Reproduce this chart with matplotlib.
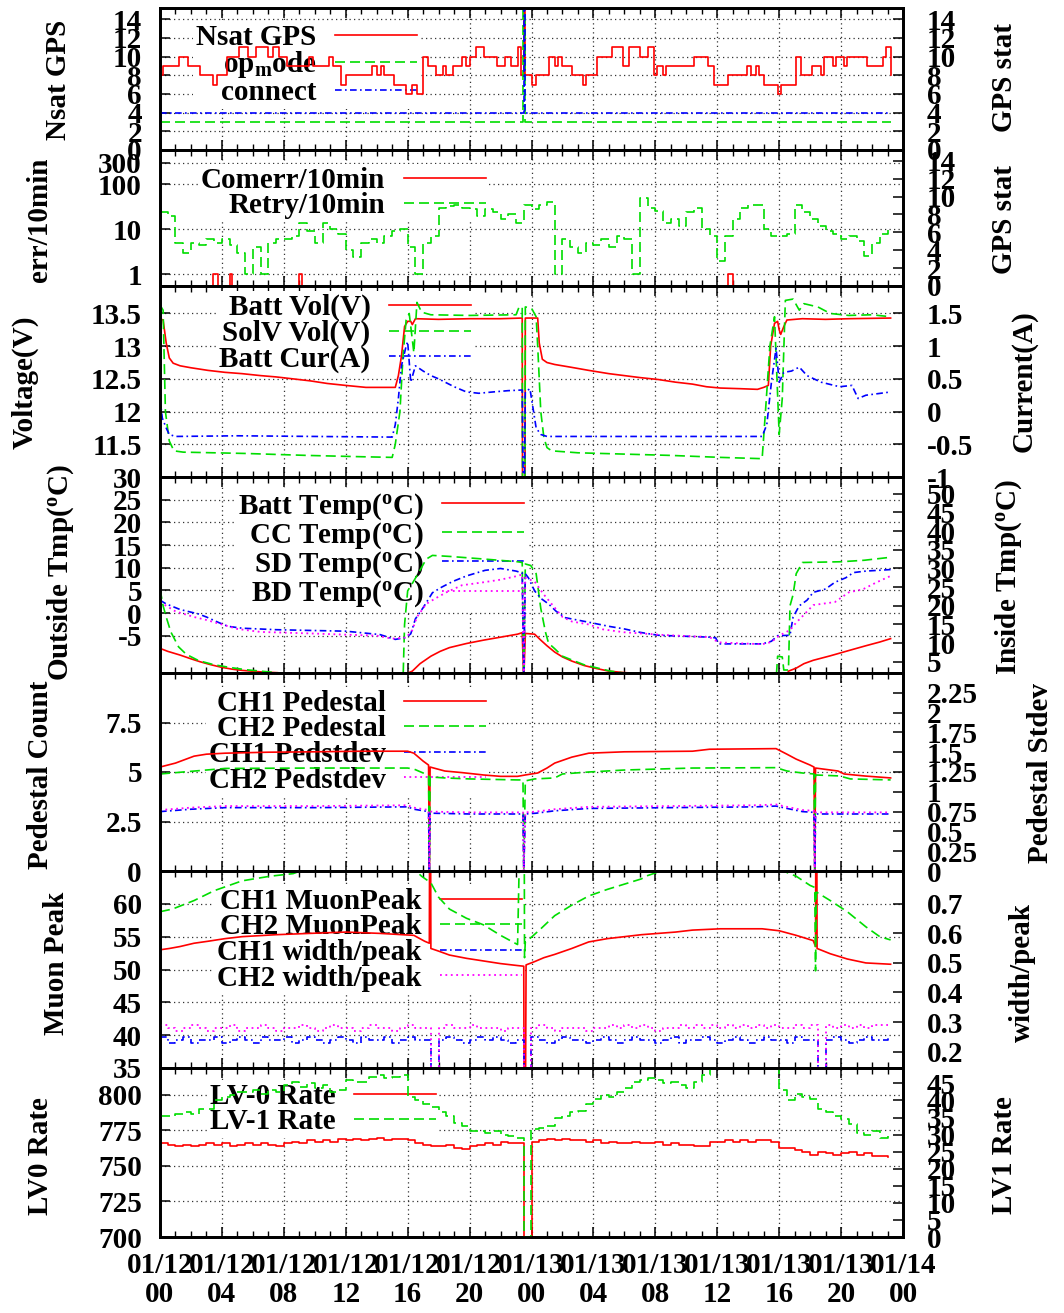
import numpy as np
import matplotlib
matplotlib.use("Agg")
import matplotlib.pyplot as plt
from matplotlib.ticker import FixedLocator, MultipleLocator, NullLocator, FormatStrFormatter

plt.rcParams['font.family'] = ['Liberation Serif', 'DejaVu Serif']
plt.rcParams['font.weight'] = 'bold'
plt.rcParams['font.size'] = 21
plt.rcParams['axes.unicode_minus'] = False
plt.rcParams['mathtext.fontset'] = 'custom'
plt.rcParams['mathtext.rm'] = 'Liberation Serif:bold'
plt.rcParams['mathtext.it'] = 'Liberation Serif:bold'
plt.rcParams['mathtext.bf'] = 'Liberation Serif:bold'

# time axis: hours since 01/12 00:00
tick_hours = [0, 4, 8, 12, 16, 20, 24, 28, 32, 36, 40, 44, 48]
tick_labels = ["01/12\n00", "01/12\n04", "01/12\n08", "01/12\n12", "01/12\n16",
               "01/12\n20", "01/13\n00", "01/13\n04", "01/13\n08", "01/13\n12",
               "01/13\n16", "01/13\n20", "01/14\n00"]

# half-hour samples for the noisy counters
half_hours = np.arange(95) * 0.5

# ---- GPS
nsat_t = [0.0, 0.2, 1.2, 1.8, 2.6, 3.4, 3.7, 4.3, 5.1, 5.7, 6.2, 7.0, 7.3, 7.7, 8.2, 9.6, 9.9, 10.9,
          11.2, 11.7, 12.0, 13.7, 14.0, 14.3, 14.5, 15.1, 15.9, 16.3, 16.6, 17.0, 17.3, 17.8, 18.3,
          18.5, 18.9, 19.5, 19.8, 20.0, 20.4, 20.9, 21.8, 22.3, 22.7, 23.1, 23.3, 23.5, 23.6, 24.0,
          24.3, 25.1, 25.5, 25.7, 26.0, 26.6, 27.3, 27.5, 28.2, 29.2, 29.9, 30.3, 31.0, 31.5, 31.9,
          32.1, 32.5, 32.7, 34.5, 35.4, 35.8, 36.7, 37.9, 38.2, 38.5, 38.7, 39.0, 39.9, 40.1, 41.1,
          41.4, 42.1, 42.7, 42.9, 43.5, 43.7, 44.2, 44.4, 45.7, 46.7, 46.9, 47.2]
nsat_v = [8, 9, 10, 9, 8, 7, 8, 10, 11, 10, 11, 10, 11, 10, 9, 10, 9, 10, 9, 7, 8, 9, 8, 9, 8, 7, 6,
          7, 6, 10, 9, 8, 9, 8, 9, 10, 9, 10, 11, 10, 9, 10, 9, 11, 8, 99, 8, 7, 8, 10, 9, 10, 9, 8,
          7, 8, 10, 11, 9, 11, 10, 11, 8, 9, 8, 9, 10, 9, 7, 8, 9, 8, 9, 8, 7, 6, 7, 10, 8, 9, 8, 10,
          9, 10, 9, 10, 9, 10, 11, 8]
opmode_t = [0.0, 23.45, 23.55, 47.2]
opmode_v = [3, 20, 3, 3]
connect_t = [0.0, 23.5, 23.6, 47.2]
connect_v = [4, 20, 4, 4]

# ---- communication errors
comerr_t = [0.0, 3.4, 3.75, 4.5, 4.65, 9.0, 9.15, 36.7, 37.0, 47.2]
comerr_v = [0, 1, 0, 1, 0, 1, 0, 1, 0, 0]
retry_v = [24, 20, 5, 3, 5, 4.5, 6, 5, 6, 4.5,
           3, 1, 4, 1, 5, 6, 6, 7, 14, 9,
           5, 14, 10, 8, 3.5, 2.4, 5, 6, 5, 7,
           9, 10, 4, 1, 5, 7, 30, 33, 35, 30,
           28, 20, 28, 24, 17, 22, 14, 34, 28, 35,
           40, 1, 6, 4, 3, 5, 4.5, 6, 4, 7,
           6, 1, 49, 30, 25, 14, 17, 12, 24, 30,
           10, 7, 2, 7, 17, 30, 35, 34, 10, 7,
           7, 8, 35, 24, 17, 12, 9, 8, 6, 7,
           5.5, 2.5, 5, 8, 12]

# ---- power
batt_vol_t = [0.0, 0.2, 0.4, 0.6, 0.85, 1.3, 2.0, 3.1, 4.2, 5.3, 6.5, 7.5, 8.6, 9.7, 10.8, 12.0,
              13.3, 15.2, 15.4, 15.6, 15.8, 16.0, 16.2, 16.3, 16.5, 18.0, 20.0, 22.0, 23.4, 23.5,
              23.6, 24.4, 24.5, 24.7, 25.0, 25.5, 26.5, 27.7, 29.0, 30.0, 31.0, 32.2, 33.3, 34.4,
              35.3, 36.2, 37.5, 38.6, 39.0, 39.3, 39.45, 39.7, 39.9, 40.0, 40.1, 40.3, 40.5, 41.5,
              43.0, 44.5, 47.2]
batt_vol_v = [13.42, 13.4, 13.05, 12.82, 12.74, 12.7, 12.67, 12.63, 12.6, 12.58, 12.55, 12.53,
              12.5, 12.47, 12.43, 12.4, 12.37, 12.37, 12.55, 12.85, 13.3, 13.38, 13.38, 13.33,
              13.42, 13.41, 13.42, 13.42, 13.43, 0, 13.43, 13.43, 13.05, 12.8, 12.75, 12.72,
              12.68, 12.63, 12.58, 12.55, 12.52, 12.49, 12.45, 12.42, 12.38, 12.36, 12.35, 12.34,
              12.37, 12.4, 13.0, 13.35, 13.38, 13.25, 13.18, 13.3, 13.4, 13.42, 13.41, 13.42, 13.43]
solv_t = [0.0, 0.2, 0.35, 0.6, 0.9, 1.5, 5.5, 9.5, 13.0, 15.0, 15.2, 15.5, 15.7, 15.9, 16.1, 16.3,
          16.4, 16.6, 16.9, 17.5, 20.0, 23.0, 23.2, 23.4, 23.5, 23.6, 24.0, 24.3, 24.4, 24.6, 24.8,
          25.0, 25.3, 27.0, 30.0, 33.0, 36.2, 38.9, 39.1, 39.4, 39.7, 40.0, 40.2, 40.4, 40.9, 41.3,
          41.6, 42.5, 43.3, 44.5, 46.0, 47.2]
solv_v = [13.63, 13.55, 12.0, 11.55, 11.4, 11.38, 11.36, 11.33, 11.31, 11.3, 11.5, 12.0, 12.85,
          13.4, 13.5, 13.1, 12.9, 13.67, 13.52, 13.48, 13.47, 13.48, 13.6, 13.6, 0, 13.6, 13.58,
          13.45, 13.0, 12.0, 11.6, 11.45, 11.4, 11.37, 11.35, 11.33, 11.3, 11.28, 11.95, 13.0,
          13.45, 11.65, 12.2, 13.7, 13.72, 13.55, 13.65, 13.6, 13.5, 13.47, 13.48, 13.45]
cur_t = [0.0, 0.15, 0.4, 0.6, 1.0, 5.0, 10.0, 15.0, 15.2, 15.4, 15.6, 15.9, 16.0, 16.2, 16.5, 17.0,
         17.5, 18.0, 19.0, 19.8, 20.6, 21.5, 22.5, 23.4, 23.5, 23.6, 23.9, 24.1, 24.3, 24.6, 25.0,
         30.0, 35.0, 38.9, 39.2, 39.5, 39.8, 40.0, 40.3, 40.8, 41.3, 41.8, 42.7, 43.9, 44.7, 45.1,
         45.6, 47.2]
cur_v = [0.2, -0.1, -0.25, -0.35, -0.38, -0.37, -0.38, -0.39, -0.2, 0.2, 0.7, 1.0, 1.07, 0.45,
         0.7, 0.62, 0.55, 0.5, 0.38, 0.3, 0.28, 0.3, 0.32, 0.33, -2.0, 0.3, 0.35, 0.05, -0.25,
         -0.35, -0.38, -0.38, -0.38, -0.38, -0.2, 0.45, 0.97, 0.45, 0.6, 0.62, 0.68, 0.55, 0.45,
         0.38, 0.4, 0.2, 0.25, 0.3]

# ---- temperatures (inside sensors)
batt_temp_t = [0.0, 0.5, 1.3, 2.0, 2.6, 3.3, 4.0, 4.7, 5.3, 6.5, 7.5, 8.2, 9.0, 10.0, 12.0, 15.7,
               15.9, 16.3, 16.8, 17.5, 18.1, 18.7, 19.8, 20.9, 22.0, 23.1, 23.4, 23.5, 23.6, 24.2,
               24.6, 25.0, 25.5, 26.0, 26.6, 27.4, 28.2, 29.0, 30.0, 31.0, 32.0, 35.0, 40.4, 40.6,
               41.1, 41.6, 42.2, 43.3, 44.4, 45.6, 46.5, 47.2]
batt_temp_v = [8.6, 7.8, 6.8, 5.8, 5.0, 4.2, 3.5, 3.0, 2.7, 2.3, 2.1, 1.9, 1.2, 0.5, -0.5, -0.5,
               1.8, 2.5, 4.5, 6.5, 7.8, 8.8, 9.9, 10.8, 11.6, 12.4, 12.8, 0, 12.6, 12.4, 10.8, 9.3,
               7.6, 6.3, 5.2, 4.0, 3.2, 2.5, 2.1, 1.9, 1.0, 0, 0, 2.5, 3.3, 4.5, 5.4, 6.6, 7.9, 9.3,
               10.3, 11.2]
cc_temp_t = [0.0, 0.2, 0.4, 0.7, 1.2, 1.7, 2.5, 3.5, 4.5, 5.5, 7.0, 8.2, 9.0, 10.0, 15.7, 15.8,
             16.0, 16.3, 16.7, 17.2, 17.6, 18.8, 21.0, 23.1, 23.4, 23.5, 23.6, 23.95, 24.3, 24.6,
             24.9, 25.1, 25.5, 26.0, 26.6, 27.4, 28.2, 29.1, 30.0, 30.4, 31.0, 39.8, 39.9, 40.2,
             40.3, 40.6, 40.7, 40.9, 41.1, 41.5, 44.0, 45.5, 47.2]
cc_temp_v = [24.5, 20.0, 17.0, 13.0, 9.0, 7.0, 5.3, 4.2, 3.5, 2.9, 2.3, 1.8, 1.0, 0, 0, 15.0, 24.0,
             26.0, 28.8, 32.5, 33.5, 33.2, 32.5, 31.8, 31.6, 0, 31.2, 30.8, 28.6, 19.3, 13.0, 10.0,
             8.5, 6.5, 5.5, 4.2, 3.4, 2.5, 2.0, 1.5, 0, 0, 6.5, 6.3, 2.8, 2.8, 20.0, 23.0, 28.6,
             31.6, 31.8, 32.2, 33.0]
sd_temp_t = [0.0, 0.4, 1.3, 2.5, 3.0, 3.8, 4.4, 5.3, 7.5, 9.7, 12.0, 14.2, 15.2, 15.9, 16.2, 16.5,
             17.0, 17.6, 18.2, 18.9, 19.8, 21.0, 22.0, 23.0, 23.4, 23.5, 23.6, 23.8, 24.2, 24.6,
             25.1, 25.6, 26.2, 27.7, 29.0, 30.0, 31.0, 32.2, 35.5, 35.9, 36.1, 38.9, 39.5, 39.9,
             40.7, 40.9, 41.3, 41.8, 42.2, 43.0, 43.6, 44.3, 44.8, 45.6, 47.2]
sd_temp_v = [21.5, 20.5, 19.0, 17.8, 17.0, 15.5, 14.5, 14.0, 13.6, 13.4, 13.2, 12.3, 11.0, 11.5,
             12.5, 16.5, 19.5, 23.5, 25.0, 26.5, 28.0, 29.5, 30.0, 29.3, 28.8, 0, 28.6, 27.5, 24.0,
             22.0, 20.5, 18.5, 16.8, 15.6, 14.5, 13.8, 12.9, 12.1, 11.6, 11.4, 9.8, 9.8, 10.5,
             12.0, 12.1, 17.0, 20.0, 21.5, 23.6, 24.5, 26.3, 27.5, 28.9, 29.3, 29.7]
bd_temp_t = [0.0, 0.4, 1.0, 2.2, 3.0, 4.0, 5.0, 6.5, 9.7, 12.5, 14.0, 15.0, 15.9, 16.3, 16.6, 17.2,
             17.8, 18.5, 19.5, 20.9, 22.0, 23.1, 23.4, 23.5, 23.6, 24.2, 24.8, 25.5, 26.0, 26.6,
             27.7, 28.6, 30.0, 32.5, 35.5, 36.1, 38.9, 39.5, 40.0, 40.7, 41.1, 41.6, 42.2, 43.6,
             44.5, 45.4, 46.3, 47.2]
bd_temp_v = [21.0, 20.0, 18.5, 17.0, 16.2, 15.0, 13.8, 13.0, 12.6, 12.2, 12.0, 11.2, 11.5, 13.5,
             17.0, 20.5, 22.0, 23.6, 25.5, 26.3, 27.0, 28.0, 28.4, 0, 27.5, 26.5, 23.0, 19.5, 17.0,
             15.8, 15.0, 13.7, 12.9, 12.2, 11.6, 10.2, 9.7, 10.3, 12.0, 13.5, 15.5, 17.6, 20.2,
             21.0, 23.6, 24.4, 26.3, 28.0]

# ---- pedestals
ch1_ped_t = [0.0, 1.0, 2.2, 3.0, 4.2, 7.0, 10.0, 13.0, 16.0, 16.4, 17.0, 17.35, 17.4, 17.45, 18.4,
             19.5, 20.9, 22.0, 23.1, 23.6, 24.4, 25.0, 25.5, 26.6, 27.7, 30.0, 34.4, 35.5, 39.8,
             40.5, 41.1, 42.0, 42.25, 42.3, 42.35, 43.8, 44.2, 45.5, 47.2]
ch1_ped_v = [5.25, 5.45, 5.8, 5.9, 5.95, 6.0, 6.02, 6.05, 6.05, 5.95, 5.55, 5.35, 0, 5.25, 5.05,
             4.97, 4.85, 4.78, 4.78, 4.85, 4.95, 5.2, 5.45, 5.75, 5.95, 6.02, 6.05, 6.15, 6.18,
             5.9, 5.65, 5.35, 5.25, 0, 5.2, 5.05, 4.9, 4.8, 4.7]
ch2_ped_t = [0.0, 1.5, 3.0, 4.2, 10.0, 16.0, 16.4, 17.0, 17.35, 17.4, 17.45, 18.4, 20.0, 23.1,
             23.45, 23.5, 23.6, 24.2, 25.5, 26.0, 27.7, 30.0, 32.2, 34.4, 39.8, 40.5, 41.5, 42.25,
             42.3, 42.35, 43.9, 44.6, 47.2]
ch2_ped_v = [4.9, 5.0, 5.1, 5.18, 5.2, 5.2, 5.15, 4.95, 4.8, 0, 4.75, 4.7, 4.65, 4.6, 4.6, 0, 4.55,
             4.65, 4.7, 4.9, 5.0, 5.1, 5.15, 5.2, 5.22, 5.05, 4.95, 4.9, 0, 4.85, 4.8, 4.65, 4.6]
pedsd_t = [0.0, 2.0, 4.2, 10.0, 16.0, 16.4, 17.35, 17.4, 17.45, 20.0, 23.45, 23.5, 23.6, 24.3,
           25.5, 27.7, 33.0, 38.5, 39.8, 40.5, 41.5, 42.25, 42.3, 42.35, 47.2]
ch1_sd_v = [0.75, 0.78, 0.8, 0.8, 0.81, 0.78, 0.75, 0, 0.73, 0.72, 0.72, 0, 0.72, 0.73, 0.76,
            0.79, 0.8, 0.81, 0.82, 0.79, 0.75, 0.74, 0, 0.72, 0.72]
ch2_sd_v = [0.77, 0.8, 0.82, 0.82, 0.83, 0.8, 0.77, 0, 0.75, 0.74, 0.74, 0, 0.74, 0.75, 0.78,
            0.81, 0.82, 0.83, 0.84, 0.81, 0.77, 0.76, 0, 0.74, 0.74]

# ---- muon peaks
ch1_mu_t = [0.0, 0.6, 1.3, 2.2, 3.1, 4.2, 5.3, 7.5, 9.7, 12.0, 14.2, 16.4, 17.1, 17.4, 17.45, 17.5,
            18.0, 18.7, 19.8, 20.9, 22.0, 23.1, 23.5, 23.55, 23.65, 24.2, 24.8, 25.5, 26.6, 27.7,
            28.9, 30.0, 31.1, 32.2, 33.3, 34.4, 36.2, 38.9, 40.0, 41.1, 42.2, 42.35, 42.4, 42.45,
            43.3, 44.4, 45.6, 47.2]
ch1_mu_v = [53.0, 53.2, 53.5, 54.0, 54.3, 54.7, 55.0, 55.3, 55.5, 55.7, 55.5, 55.2, 54.3, 54.0,
            100, 53.2, 52.8, 52.2, 51.7, 51.3, 50.9, 50.6, 50.5, 0, 50.7, 51.2, 51.8, 52.3, 53.2,
            54.2, 54.7, 55.0, 55.3, 55.5, 55.7, 56.0, 56.2, 56.2, 55.9, 55.2, 54.4, 53.5, 100,
            53.2, 52.4, 51.6, 51.0, 50.8]
ch2_mu_t = [0.0, 0.8, 2.2, 3.5, 5.3, 7.1, 8.6, 10.0, 13.0, 15.0, 16.4, 16.9, 17.5, 18.0, 18.7,
            19.8, 20.9, 22.0, 23.1, 23.5, 23.55, 23.6, 23.7, 24.6, 25.5, 26.6, 27.7, 28.9, 30.0,
            31.1, 31.5, 33.0, 36.0, 39.0, 41.1, 42.0, 42.3, 42.35, 42.4, 43.3, 44.4, 45.6, 46.5,
            47.2]
ch2_mu_v = [58.8, 59.2, 60.5, 62.0, 63.5, 64.2, 64.6, 65.8, 66.3, 66.0, 65.3, 64.2, 63.2, 61.0,
            59.2, 57.8, 56.8, 55.2, 53.8, 100, 51.8, 54.2, 54.3, 56.2, 58.2, 59.8, 61.2, 62.2,
            63.0, 63.8, 64.3, 65.5, 66.5, 66.2, 64.2, 62.8, 62.5, 49.8, 61.8, 60.5, 58.8, 56.5,
            55.0, 54.5]
ch1_wp_v = [0.25, 0.23, 0.24, 0.25, 0.23, 0.24, 0.24, 0.25, 0.23, 0.24, 0.25, 0.24,
            0.23, 0.25, 0.24, 0.24, 0.25, 0.23, 0.24, 0.25, 0.24, 0.23, 0.24, 0.25,
            0.24, 0.23, 0.25, 0.24, 0.24, 0.25, 0.23, 0.24, 0.25, 0.24, 0.24, 0,
            0.24, 0.25, 0.24, 0.23, 0.24, 0.25, 0.24, 0.25, 0.24, 0.23, 0.24, 0,
            0.25, 0.24, 0.23, 0.24, 0.25, 0.24, 0.24, 0.23, 0.24, 0.25, 0.24, 0.23,
            0.24, 0.25, 0.24, 0.24, 0.23, 0.24, 0.25, 0.23, 0.24, 0.24, 0.25, 0.24,
            0.23, 0.24, 0.25, 0.24, 0.23, 0.24, 0.25, 0.24, 0.24, 0.23, 0.25, 0.24,
            0.24, 0, 0.24, 0.25, 0.24, 0.23, 0.24, 0.25, 0.24, 0.24, 0.25]
ch2_wp_v = [0.29, 0.28, 0.27, 0.28, 0.29, 0.28, 0.27, 0.28, 0.28, 0.29, 0.27, 0.28,
            0.28, 0.29, 0.28, 0.27, 0.28, 0.28, 0.29, 0.28, 0.27, 0.28, 0.29, 0.28,
            0.28, 0.27, 0.28, 0.29, 0.28, 0.28, 0.27, 0.28, 0.29, 0.28, 0.28, 0,
            0.28, 0.29, 0.28, 0.28, 0.29, 0.28, 0.28, 0.28, 0.27, 0.28, 0.28, 0,
            0.28, 0.29, 0.28, 0.27, 0.28, 0.28, 0.28, 0.27, 0.28, 0.28, 0.29, 0.28,
            0.29, 0.28, 0.29, 0.28, 0.27, 0.28, 0.28, 0.29, 0.28, 0.29, 0.28, 0.29,
            0.28, 0.29, 0.28, 0.29, 0.28, 0.29, 0.28, 0.29, 0.28, 0.28, 0.29, 0.28,
            0.29, 0, 0.29, 0.28, 0.29, 0.28, 0.29, 0.28, 0.29, 0.29, 0.29]

# ---- trigger rates
lv0_v = [766, 765, 764, 765, 764, 765, 766, 765, 766, 764, 765, 766,
         765, 766, 765, 764, 766, 767, 766, 768, 767, 768, 767, 769,
         768, 769, 768, 769, 770, 768, 769, 769, 768, 766, 765, 764,
         764, 765, 763, 762, 764, 765, 766, 765, 767, 766, 766, 0,
         767, 768, 769, 768, 769, 768, 768, 767, 768, 766, 767, 766,
         766, 767, 766, 766, 767, 765, 766, 765, 765, 764, 764, 767,
         767, 768, 767, 768, 767, 768, 768, 767, 763, 763, 761, 760,
         758, 760, 759, 758, 759, 760, 758, 759, 757, 757, 756]
lv1_v = [35.5, 35.5, 36, 36.5, 36, 37.5, 37.5, 40, 41, 41.5, 42.5, 42.5,
         43, 42, 43, 42.5, 44.5, 45.5, 44, 45, 43.5, 44.5, 42.5, 43,
         46, 45.5, 45.5, 47, 47.5, 46.5, 47, 47.5, 41, 40, 39, 38,
         36.5, 35.5, 33.5, 32.5, 31, 31, 30.5, 31, 30, 29.5, 29, 0,
         31.5, 32, 32.5, 35, 35.5, 36.5, 37, 39, 40.5, 41.5, 41, 42.5,
         43.5, 45.5, 46, 46.5, 46, 45, 45.5, 44.5, 43.5, 45.5, 47.5, 49.5,
         50.5, 51, 50.5, 51, 51, 50.5, 51, 50.5, 43, 40, 42, 41,
         40.5, 37.5, 36.5, 35.5, 34.5, 33, 30.5, 30, 31, 29, 29.5]

RED = dict(color='#ff0000', lw=1.2, ls='-')
GREEN = dict(color='#00dd00', lw=1.2, ls=(0, (6, 3)))
BLUE = dict(color='#0000ff', lw=1.2, ls=(0, (4, 2, 1, 2)))
MAG = dict(color='#ff00ff', lw=1.3, ls=(0, (1, 2)))

W, H = 1064, 1313
fig = plt.figure(figsize=(W / 100, H / 100), dpi=100)


def panel(top, bottom):
    ax = fig.add_axes([160 / W, 1 - bottom / H, 743 / W, (bottom - top) / H])
    ax2 = ax.twinx()
    ax.set_xlim(0, 48)
    ax.xaxis.set_major_locator(MultipleLocator(4))
    ax.xaxis.set_minor_locator(MultipleLocator(1))
    ax.tick_params(axis='x', which='both', direction='in', top=True, bottom=True,
                   labelbottom=False)
    ax.tick_params(axis='x', which='major', length=7, width=1.1)
    ax.tick_params(axis='x', which='minor', length=4, width=1.0)
    ax.tick_params(axis='y', which='major', direction='in', length=7, width=1.1, pad=13)
    ax2.tick_params(axis='y', which='major', direction='in', length=7, width=1.1, pad=17)
    ax.set_axisbelow(True)
    ax.grid(True, which='major', color='#333333', linestyle=(0, (1, 2.6)), linewidth=0.9)
    for a in (ax, ax2):
        for s in a.spines.values():
            s.set_linewidth(2)
    return ax, ax2


def yticks(a, values, fmt='%g'):
    a.yaxis.set_major_locator(FixedLocator(values))
    a.yaxis.set_major_formatter(FormatStrFormatter(fmt))


def key(ax, handles, labels, right_px, top_px):
    leg = ax.legend(handles, labels, loc='upper right',
                    bbox_to_anchor=(right_px / W, 1 - top_px / H),
                    bbox_transform=fig.transFigure, markerfirst=False,
                    frameon=True, facecolor='white', edgecolor='none', framealpha=1,
                    fancybox=False, borderpad=0.1, borderaxespad=0,
                    handlelength=2.8, handletextpad=0.65, labelspacing=-0.05)
    leg.set_zorder(1)


deg = r"$\mathrm{(}^{\mathrm{o}}$C)"

# 1: GPS satellites and status
ax, ax2 = panel(8, 150)
h1, = ax.plot(nsat_t, nsat_v, drawstyle='steps-post', **RED)
h2, = ax2.plot(opmode_t, opmode_v, drawstyle='steps-post', **GREEN)
h3, = ax2.plot(connect_t, connect_v, drawstyle='steps-post', **BLUE)
ax.set_ylim(0, 15.2)
ax2.set_ylim(0, 15.2)
yticks(ax, range(0, 15, 2))
yticks(ax2, range(0, 15, 2))
key(ax, [h1, h2, h3], ["Nsat GPS", r"o$\mathrm{p}_{\mathrm{m}}$ode", "connect"], 420, 21)

# 2: error counters
ax, ax2 = panel(150, 286)
ax.set_yscale('log')
h1, = ax.plot(comerr_t, comerr_v, drawstyle='steps-post', **RED)
h2, = ax.plot(half_hours, retry_v, drawstyle='steps-post', **GREEN)
ax.set_ylim(0.55, 570)
yticks(ax, [1, 10, 100, 300])
ax.yaxis.set_minor_locator(NullLocator())
ax2.set_ylim(0, 15.2)
yticks(ax2, range(0, 15, 2))
key(ax, [h1, h2], ["Comerr/10min", "Retry/10min"], 489, 164)

# 3: battery and solar voltage, battery current
ax, ax2 = panel(286, 477)
h1, = ax.plot(batt_vol_t, batt_vol_v, **RED)
h2, = ax.plot(solv_t, solv_v, **GREEN)
h3, = ax2.plot(cur_t, cur_v, **BLUE)
ax.set_ylim(11.0, 13.92)
ax2.set_ylim(-1.0, 1.92)
yticks(ax, [11.5, 12, 12.5, 13, 13.5])
yticks(ax2, [-1, -0.5, 0, 0.5, 1, 1.5])
key(ax, [h1, h2, h3], ["Batt Vol(V)", "SolV Vol(V)", "Batt Cur(A)"], 474, 291)

# 4: temperatures
ax, ax2 = panel(477, 673)
h1, = ax2.plot(batt_temp_t, batt_temp_v, **RED)
h2, = ax2.plot(cc_temp_t, cc_temp_v, **GREEN)
h3, = ax2.plot(sd_temp_t, sd_temp_v, **BLUE)
h4, = ax2.plot(bd_temp_t, bd_temp_v, **MAG)
ax.set_ylim(-13.2, 30)
ax2.set_ylim(2.0, 54.5)
yticks(ax, range(-5, 31, 5))
yticks(ax2, range(5, 51, 5))
key(ax, [h1, h2, h3, h4],
    ["Batt Temp" + deg, "CC Temp" + deg, "SD Temp" + deg, "BD Temp" + deg], 527, 488)

# 5: pedestals
ax, ax2 = panel(673, 871)
h1, = ax.plot(ch1_ped_t, ch1_ped_v, **RED)
h2, = ax.plot(ch2_ped_t, ch2_ped_v, **GREEN)
h3, = ax2.plot(pedsd_t, ch1_sd_v, **BLUE)
h4, = ax2.plot(pedsd_t, ch2_sd_v, **MAG)
ax.set_ylim(0, 10)
ax2.set_ylim(0, 2.5)
yticks(ax, [0, 2.5, 5, 7.5])
yticks(ax2, [0, 0.25, 0.5, 0.75, 1, 1.25, 1.5, 1.75, 2, 2.25])
key(ax, [h1, h2, h3, h4],
    ["CH1 Pedestal", "CH2 Pedestal", "CH1 Pedstdev", "CH2 Pedstdev"], 489, 687)

# 6: muon peaks and widths
ax, ax2 = panel(871, 1068)
h1, = ax.plot(ch1_mu_t, ch1_mu_v, **RED)
h2, = ax.plot(ch2_mu_t, ch2_mu_v, **GREEN)
h3, = ax2.plot(half_hours, ch1_wp_v, drawstyle='steps-post', **BLUE)
h4, = ax2.plot(half_hours, ch2_wp_v, drawstyle='steps-post', **MAG)
ax.set_ylim(35, 65)
ax2.set_ylim(0.145, 0.81)
yticks(ax, range(35, 61, 5))
yticks(ax2, [0.2, 0.3, 0.4, 0.5, 0.6, 0.7])
key(ax, [h1, h2, h3, h4],
    ["CH1 MuonPeak", "CH2 MuonPeak", "CH1 width/peak", "CH2 width/peak"], 525, 885)

# 7: trigger rates
ax, ax2 = panel(1068, 1237)
h1, = ax.plot(half_hours, lv0_v, drawstyle='steps-post', **RED)
h2, = ax2.plot(half_hours, lv1_v, drawstyle='steps-post', **GREEN)
ax.set_ylim(700, 819)
ax2.set_ylim(0, 49.5)
yticks(ax, [700, 725, 750, 775, 800])
yticks(ax2, range(0, 46, 5))
key(ax, [h1, h2], ["LV-0 Rate", "LV-1 Rate"], 439, 1080)
ax.set_xticks(tick_hours, tick_labels)
ax.tick_params(axis='x', which='major', labelbottom=True, pad=11)
for lab in ax.get_xticklabels():
    lab.set_linespacing(1.1)

# axis titles
left_titles = [("Nsat GPS", 58, 80), ("err/10min", 40, 220), ("Voltage(V)", 25, 382),
               ("Outside Tmp" + deg, 61, 573), ("Pedestal Count", 41, 775),
               ("Muon Peak", 57, 963), ("LV0 Rate", 41, 1156)]
right_titles = [("GPS stat", 1005, 78), ("GPS stat", 1005, 220), ("Current(A)", 1024, 381),
                ("Inside Tmp" + deg, 1009, 577), ("Pedestal Stdev", 1041, 773),
                ("width/peak", 1022, 972), ("LV1 Rate", 1005, 1155)]
for text, x, y in left_titles + right_titles:
    fig.text(x / W, 1 - y / H, text, rotation=90, ha='center', va='center')

fig.savefig("out.png", dpi=100)
